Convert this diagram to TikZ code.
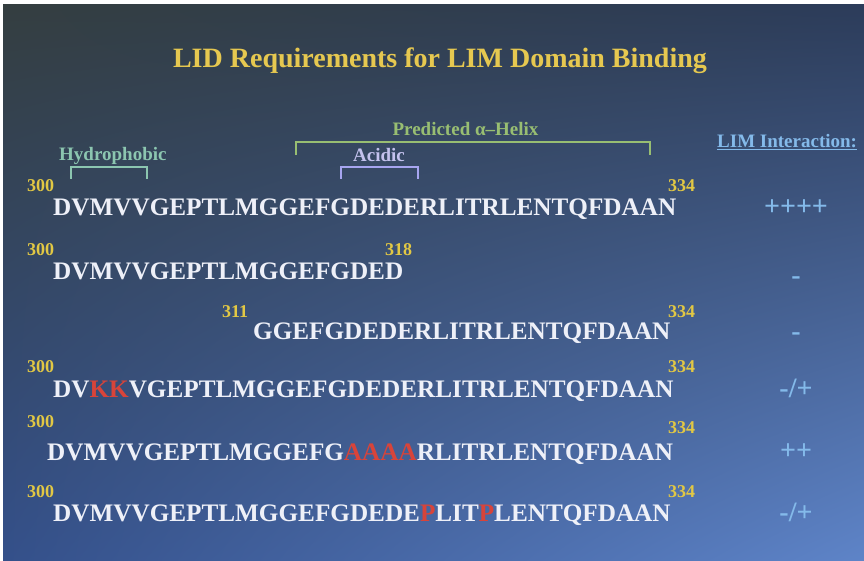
\documentclass[tikz,border=0pt]{standalone}
\usepackage{fontspec}
\setmainfont{Liberation Serif}
\usetikzlibrary{calc,shadings}
\definecolor{bgUL}{HTML}{343E40}
\definecolor{bgUR}{HTML}{2C3C5A}
\definecolor{bgLL}{HTML}{34508A}
\definecolor{bgLR}{HTML}{5E84C8}
\definecolor{titleY}{HTML}{E6C850}
\definecolor{numY}{HTML}{E2C844}
\definecolor{seqW}{HTML}{EEF0F8}
\definecolor{mutR}{HTML}{D8443A}
\definecolor{helixG}{HTML}{98BE72}
\definecolor{hydroG}{HTML}{8CC6B0}
\definecolor{acidL}{HTML}{C4C2EE}
\definecolor{limB}{HTML}{84BAEA}
\newcommand{\mut}[1]{\textcolor{mutR}{#1}}
\newcommand{\spanbrk}[4]{% color A B leg
  \draw[brk,#1] ($(#2)+(0,#4)$) -- (#2) -- (#3) -- ($(#3)+(0,#4)$);
}

\begin{document}
\begin{tikzpicture}[x=1pt, y=-1pt,
    seq/.style={font=\fontsize{25.2}{26}\selectfont\bfseries, text=seqW, anchor=base west, inner sep=0pt},
    num/.style={font=\fontsize{18}{18}\selectfont\bfseries, text=numY, anchor=base west, inner sep=0pt},
    score/.style={font=\fontsize{28}{28}\selectfont\bfseries, text=limB, anchor=base, inner sep=0pt},
    tag/.style={font=\fontsize{19}{19}\selectfont\bfseries, anchor=base west, inner sep=0pt},
    brk/.style={line width=1.5pt}]
  \useasboundingbox (0,0) rectangle (864,561);
  \fill[white] (0,0) rectangle (864,561);
  \shade[upper left=bgUL, upper right=bgUR, lower left=bgLL, lower right=bgLR]
    (3,5) rectangle (864,561);

  % ---- title ----
  \node[font=\fontsize{28}{28}\selectfont\bfseries, text=titleY, anchor=base, inner sep=0pt]
    (title) at (440,68) {LID Requirements for LIM Domain Binding};

  % ---- region labels and brackets ----
  \node[tag, text=helixG, anchor=base] (helix) at (465.5,136) {Predicted α–Helix};
  \node[tag, text=hydroG] (hydro) at (59,161) {Hydrophobic};
  \node[tag, text=acidL] (acid) at (353,162) {Acidic};
  \node[tag, text=limB] (lim) at (717,148) {\underline{LIM Interaction:}};
  \coordinate (heA) at (296,142);
  \coordinate (heB) at (650,142);
  \coordinate (hyA) at (71,167);
  \coordinate (hyB) at (147,167);
  \coordinate (acA) at (341,167);
  \coordinate (acB) at (418,167);
  \spanbrk{helixG}{heA}{heB}{13}
  \spanbrk{hydroG}{hyA}{hyB}{12}
  \spanbrk{acidL!85!blue}{acA}{acB}{12}

  % ---- sequences ----
  \node[seq] (s1) at (53,216) {DVMVVGEPTLMGGEFGDEDERLITRLENTQFDAAN};
  \node[seq] (s2) at (53,279) {DVMVVGEPTLMGGEFGDED};
  \node[seq] (s3) at (253,339) {GGEFGDEDERLITRLENTQFDAAN};
  \node[seq] (s4) at (53,397) {DV\mut{KK}VGEPTLMGGEFGDEDERLITRLENTQFDAAN};
  \node[seq] (s5) at (47,460) {DVMVVGEPTLMGGEFG\mut{AAAA}RLITRLENTQFDAAN};
  \node[seq] (s6) at (53,521) {DVMVVGEPTLMGGEFGDEDE\mut{P}LIT\mut{P}LENTQFDAAN};

  % ---- residue numbers ----
  \foreach \r/\y in {1/192, 2/255, 4/372, 5/427, 6/497}
    \node[num] (a\r) at (27,\y) {300};
  \foreach \r/\y in {1/192, 3/317, 4/372, 5/433, 6/497}
    \node[num] (b\r) at (668,\y) {334};
  \node[num] (b2) at (385,255) {318};
  \node[num] (a3) at (222,317) {311};

  % ---- LIM interaction ----
  \foreach \r/\y/\t in {1/216/{++++}, 2/284/{-}, 3/340/{-}, 4/397/{-/+}, 5/459/{++}, 6/521/{-/+}}
    \node[score] (c\r) at (796,\y) {\t};
\end{tikzpicture}
\end{document}
